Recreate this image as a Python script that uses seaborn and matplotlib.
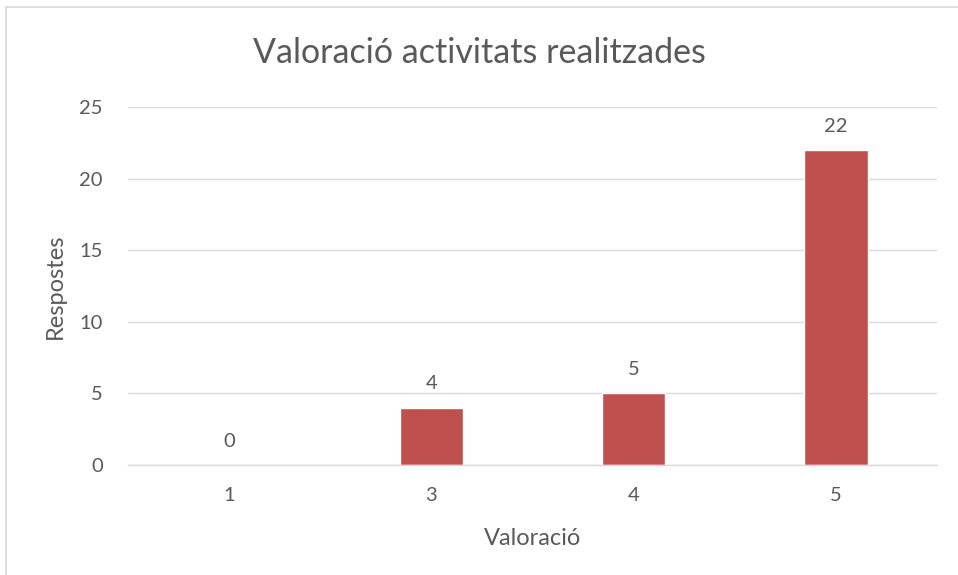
import matplotlib
matplotlib.use("Agg")
import matplotlib.pyplot as plt
import seaborn as sns
import pandas as pd
from matplotlib.lines import Line2D

categories = ["1", "3", "4", "5"]
values = [0, 4, 5, 22]
yticks = [0, 5, 10, 15, 20, 25]
title = "Valoració activitats realitzades"
xlabel = "Valoració"
ylabel = "Respostes"

sns.set_theme(style="white")
plt.rcParams['font.family'] = ['Lato', 'DejaVu Sans']

df = pd.DataFrame({"cat": categories, "val": values})
txt = "#595959"

fig = plt.figure(figsize=(9.58, 5.75), dpi=100)
ax = fig.add_axes([128/958, 1-465/575, (937-128)/958, (465-107)/575])
sns.barplot(data=df, x="cat", y="val", color="#C0504D", saturation=1, width=0.315, ax=ax)
ax.set_ylim(0, 25)
ax.set_yticks(yticks)
ax.yaxis.grid(True, color="#D9D9D9", linewidth=1)
ax.set_axisbelow(True)
for s in ["top", "right", "left"]:
    ax.spines[s].set_visible(False)
ax.spines["bottom"].set_color("#D9D9D9")
ax.spines["bottom"].set_linewidth(1)
ax.tick_params(axis="both", length=0, labelsize=14.5, colors=txt)
ax.tick_params(axis="x", pad=16)
ax.tick_params(axis="y", pad=18)
ax.set_xlabel(xlabel, fontsize=17, color=txt, labelpad=17)
ax.set_ylabel(ylabel, fontsize=17, color=txt, labelpad=10)
for c in ax.containers:
    ax.bar_label(c, labels=[str(v) for v in values], padding=11, fontsize=14.5, color=txt)
fig.text(0.5, 1-53/575, title, ha="center", va="center", fontsize=24.5, color=txt)

fig.add_artist(Line2D([6/958, 6/958], [0, 1-7/575], transform=fig.transFigure, color="#D9D9D9", linewidth=1.2))
fig.add_artist(Line2D([6/958, 1], [1-7/575, 1-7/575], transform=fig.transFigure, color="#D9D9D9", linewidth=1.2))

fig.savefig("out.png", dpi=100)
